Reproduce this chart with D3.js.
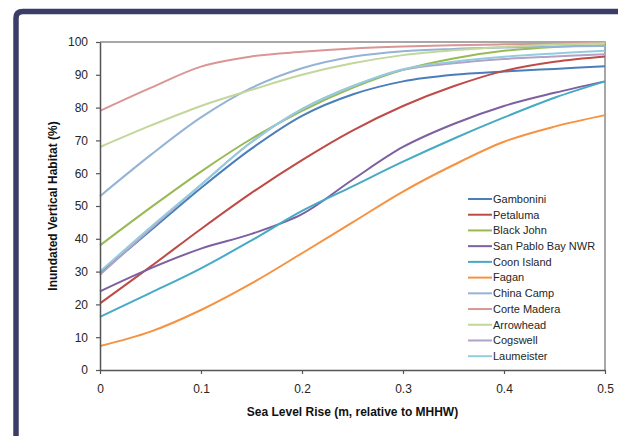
<!DOCTYPE html>
<html>
<head>
<meta charset="utf-8">
<script src="https://cdn.jsdelivr.net/npm/d3@7"></script>
<style>
  body { margin: 0; background: #fff; }
  svg { display: block; font-family: Arial, "Liberation Sans", sans-serif; }
  .tick text { font-size: 12px; fill: #262626; }
  .axis-title { font-size: 12px; font-weight: bold; fill: #111; }
  .legend text { font-size: 11px; fill: #262626; }
</style>
</head>
<body>
<div id="chart"></div>
<script>
// sea level rise (m) at which each site was read
const slr = [0, 0.05, 0.1, 0.15, 0.2, 0.25, 0.3, 0.35, 0.4, 0.45, 0.5];

const siteNames = ['Gambonini', 'Petaluma', 'Black John', 'San Pablo Bay NWR', 'Coon Island', 'Fagan',
  'China Camp', 'Corte Madera', 'Arrowhead', 'Cogswell', 'Laumeister'];

const siteColors = ['#4a7ebb', '#be4b48', '#98b954', '#7d60a0', '#46aac5', '#f69240',
  '#95b3d7', '#d99694', '#c3d69b', '#b3a2c7', '#93cddd'];

// inundated vertical habitat (%), one array per site, same order as siteNames
const gambonini = [29.5, 42.5, 55.5, 67.5, 77.5, 84, 88, 90, 91, 91.8, 92.6];
const petaluma = [20.3, 31.5, 43, 54, 64, 73, 80.5, 86.5, 91.2, 94, 95.6];
const blackJohn = [38, 49.5, 60.5, 70.5, 79, 86, 91.5, 95, 97.3, 98.5, 99];
const sanPablo = [24, 31, 37, 41.5, 47.5, 58, 68, 75, 80.5, 84.5, 88];
const coonIsland = [16.2, 23.5, 31, 39.5, 48.5, 56, 63.5, 70.5, 77, 83, 88];
const fagan = [7.3, 11.7, 18.3, 26.4, 35.6, 45, 54.4, 62.5, 69.6, 74.2, 77.7];
const chinaCamp = [53, 65.5, 77, 86, 92, 95.5, 97.2, 97.9, 98.3, 98.6, 98.8];
const corteMadera = [79, 86, 92.5, 95.6, 97, 98, 98.6, 99, 99.3, 99.5, 99.7];
const arrowhead = [68, 74.5, 80.5, 85.4, 90, 93.5, 96, 97.5, 98.5, 99.2, 99.6];
const cogswell = [29, 43, 56.5, 69.5, 79.5, 86.5, 91.5, 93.5, 94.8, 95.6, 96.3];
const laumeister = [30, 43.5, 56.5, 69.5, 79.5, 86.5, 91.7, 94, 95.5, 96.5, 97.3];

const siteValues = [gambonini, petaluma, blackJohn, sanPablo, coonIsland, fagan,
  chinaCamp, corteMadera, arrowhead, cogswell, laumeister];

const xTicks = [0, 0.1, 0.2, 0.3, 0.4, 0.5];
const yTicks = [0, 10, 20, 30, 40, 50, 60, 70, 80, 90, 100];

const width = 618, height = 436;
const margin = { top: 42, right: 13, bottom: 66, left: 100 };

const svg = d3.select('#chart').append('svg')
  .attr('width', width)
  .attr('height', height);

// dark slide frame behind the chart
svg.append('path')
  .attr('d', 'M16,436 V18 Q16,11.5 23,11.5 H640')
  .attr('fill', 'none')
  .attr('stroke', '#3c3c68')
  .attr('stroke-width', 5.5);

const x = d3.scaleLinear()
  .domain([0, 0.5])
  .range([margin.left, width - margin.right]);

const y = d3.scaleLinear()
  .domain([0, 100])
  .range([height - margin.bottom, margin.top]);

// plot area border (top / right in grey)
svg.append('path')
  .attr('d', `M${x(0)},${y(100)} H${x(0.5)} V${y(0)}`)
  .attr('fill', 'none')
  .attr('stroke', '#8a8a8a')
  .attr('stroke-width', 1.5);

const line = d3.line()
  .x((d, i) => x(slr[i]))
  .y(d => y(d))
  .curve(d3.curveCatmullRom.alpha(0.5));

const series = svg.append('g').attr('class', 'series');
siteValues.forEach((vals, i) => {
  series.append('path')
    .datum(vals)
    .attr('fill', 'none')
    .attr('stroke', siteColors[i])
    .attr('stroke-width', 2)
    .attr('d', line);
});

const xAxis = svg.append('g')
  .attr('transform', `translate(0,${y(0)})`)
  .call(d3.axisBottom(x).tickValues(xTicks).tickSize(4).tickSizeOuter(0).tickPadding(10)
    .tickFormat(d => d === 0 ? '0' : d3.format('.1f')(d)));

const yAxis = svg.append('g')
  .attr('transform', `translate(${x(0)},0)`)
  .call(d3.axisLeft(y).tickValues(yTicks).tickSize(4).tickSizeOuter(0).tickPadding(8));

[xAxis, yAxis].forEach(g => {
  g.select('.domain').attr('stroke', '#555').attr('stroke-width', 1.5);
  g.selectAll('.tick line').attr('stroke', '#555').attr('stroke-width', 1.2);
  g.selectAll('.tick text').attr('font-family', null).attr('font-size', null);
});

svg.append('text')
  .attr('class', 'axis-title')
  .attr('x', (x(0) + x(0.5)) / 2)
  .attr('y', 416)
  .attr('text-anchor', 'middle')
  .text('Sea Level Rise (m, relative to MHHW)');

svg.append('text')
  .attr('class', 'axis-title')
  .attr('transform', `translate(57,${(y(0) + y(100)) / 2}) rotate(-90)`)
  .attr('text-anchor', 'middle')
  .text('Inundated Vertical Habitat (%)');

// legend
const legend = svg.append('g').attr('class', 'legend');
siteNames.forEach((name, i) => {
  const ly = 199 + i * 15.72;
  legend.append('line')
    .attr('x1', 468).attr('x2', 492)
    .attr('y1', ly).attr('y2', ly)
    .attr('stroke', siteColors[i])
    .attr('stroke-width', 2);
  legend.append('text')
    .attr('x', 493)
    .attr('y', ly)
    .attr('dy', '0.35em')
    .text(name);
});
</script>
</body>
</html>
